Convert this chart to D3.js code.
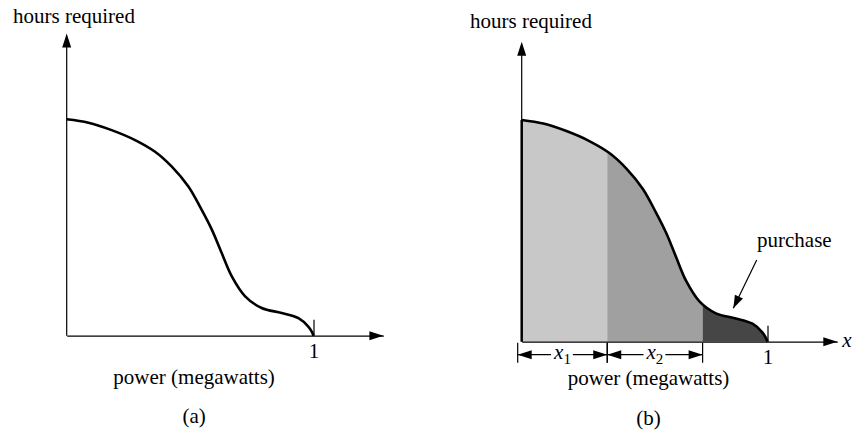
<!DOCTYPE html>
<html lang="en">
<head>
  <meta charset="UTF-8">
  <title>Hours required vs power</title>
  <script src="https://d3js.org/d3.v7.min.js"></script>
  <style>
    body { margin: 0; background: #fff; }
    text { font-family: "Liberation Serif", "Times New Roman", serif; font-size: 21px; fill: #000; }
    .ax { stroke: #000; stroke-width: 1.2; fill: none; }
  </style>
</head>
<body>
<svg id="chart" width="853" height="433"></svg>

<script>
// curve (power as fraction of 1 MW, hours as fraction of peak)
const powerX = [0, 0.088, 0.182, 0.277, 0.358, 0.426, 0.493, 0.547, 0.588, 0.628, 0.669, 0.723, 0.790, 0.871, 0.939, 0.979, 0.994, 1.0];
const hoursY = [1.0, 0.984, 0.950, 0.904, 0.850, 0.781, 0.689, 0.581, 0.490, 0.382, 0.274, 0.182, 0.128, 0.105, 0.081, 0.042, 0.016, 0];
const xTicks = [1];
const segments = [0, 0.348, 0.736, 1];
const segColors = ["#c8c8c8", "#a0a0a0", "#464646"];
const dimLabels = ["1", "2"];

const pts = powerX.map((x, i) => ({ x, y: hoursY[i] }));
const svg = d3.select("#chart");
const smooth = d3.curveCatmullRom.alpha(0.5);

function arrowHead(g, tx, ty, ang, len = 14, hw = 4.5) {
  const c = Math.cos(ang), s = Math.sin(ang);
  const bx = tx - c * len, by = ty - s * len;
  g.append("path")
    .attr("d", `M${tx},${ty}L${bx - s * hw},${by + c * hw}L${bx + s * hw},${by - c * hw}Z`)
    .attr("fill", "#000");
}

function drawPanel(opt) {
  const g = svg.append("g");
  const x = d3.scaleLinear().domain([0, 1]).range(opt.xr);
  const y = d3.scaleLinear().domain([0, 1]).range(opt.yr);

  const line = d3.line().x(d => x(d.x)).y(d => y(d.y)).curve(smooth);
  const area = d3.area().x(d => x(d.x)).y0(y(0)).y1(d => y(d.y)).curve(smooth);

  if (opt.shaded) {
    segColors.forEach((col, i) => {
      const id = "clip" + i;
      g.append("clipPath").attr("id", id).append("rect")
        .attr("x", x(segments[i])).attr("y", 0)
        .attr("width", x(segments[i + 1]) - x(segments[i]))
        .attr("height", y(0));
      g.append("path").datum(pts).attr("d", area)
        .attr("fill", col).attr("clip-path", `url(#${id})`);
    });
  }

  // x axis
  const xAxis = d3.axisBottom(x.copy().domain([0, opt.xMax]).range([x(0), x(opt.xMax)]))
    .tickValues(xTicks).tickFormat(d3.format("d"))
    .tickSizeInner(-16).tickSizeOuter(0).tickPadding(7);
  const xg = g.append("g").attr("transform", `translate(0,${y(0)})`).call(xAxis);
  xg.select(".domain").attr("stroke-width", 1.2);
  xg.selectAll(".tick line").attr("stroke-width", 1.2);
  xg.selectAll(".tick text").attr("font-family", null).attr("font-size", null).attr("dy", "0.71em");
  arrowHead(g, x(opt.xMax), y(0), 0);

  // y axis
  g.append("line").attr("class", "ax")
    .attr("x1", x(0)).attr("x2", x(0)).attr("y1", y(0)).attr("y2", y(opt.yMax) + 10);
  arrowHead(g, x(0), y(opt.yMax), -Math.PI / 2);

  if (opt.shaded) {
    g.append("line").attr("stroke", "#000").attr("stroke-width", 2.5)
      .attr("x1", x(0)).attr("x2", x(0)).attr("y1", y(0)).attr("y2", y(1));
  }
  g.append("path").datum(pts).attr("d", line)
    .attr("fill", "none").attr("stroke", "#000").attr("stroke-width", 2.6);

  g.append("text").attr("x", opt.yLabel[0]).attr("y", opt.yLabel[1]).text("hours required");
  g.append("text").attr("x", (x(0) + x(1)) / 2 + 4).attr("y", opt.xLabelY)
    .attr("text-anchor", "middle").text("power (megawatts)");
  g.append("text").attr("x", (x(0) + x(1)) / 2 + 4).attr("y", opt.capY)
    .attr("text-anchor", "middle").text(opt.caption);

  return { g, x, y };
}

drawPanel({ xr: [66.7, 313.5], yr: [335.7, 119.3], xMax: 1.283, yMax: 1.397,
  yLabel: [13, 23], xLabelY: 384, capY: 423, caption: "(a)" });

const b = drawPanel({ xr: [521.7, 767.5], yr: [341.7, 120], xMax: 1.284, yMax: 1.353,
  yLabel: [470, 28], xLabelY: 385, capY: 425, caption: "(b)", shaded: true });

// x symbol at end of axis
b.g.append("text").attr("x", b.x(1.284) + 5).attr("y", b.y(0) + 5)
  .attr("font-style", "italic").text("x");

// dimension lines under segments x1, x2
const dimY = b.y(0) + 13;
dimLabels.forEach((sub, i) => {
  const x0 = b.x(segments[i]) - (i === 0 ? 4 : 0), x1 = b.x(segments[i + 1]);
  const cx = (x0 + x1) / 2;
  b.g.append("line").attr("class", "ax").attr("x1", x0).attr("x2", x0).attr("y1", dimY - 12).attr("y2", dimY + 8);
  b.g.append("line").attr("class", "ax").attr("x1", x1).attr("x2", x1).attr("y1", dimY - 12).attr("y2", dimY + 8);
  const t = b.g.append("text").attr("x", cx).attr("y", dimY + 4).attr("text-anchor", "middle");
  t.append("tspan").attr("font-style", "italic").text("x");
  t.append("tspan").attr("font-size", "15px").attr("dy", 5).text(sub);
  const bb = t.node().getBBox();
  b.g.append("line").attr("class", "ax").attr("x1", x0).attr("x2", bb.x - 2).attr("y1", dimY).attr("y2", dimY);
  b.g.append("line").attr("class", "ax").attr("x1", bb.x + bb.width + 2).attr("x2", x1).attr("y1", dimY).attr("y2", dimY);
  arrowHead(b.g, x0, dimY, Math.PI, 14, 4.5);
  arrowHead(b.g, x1, dimY, 0, 14, 4.5);
});

// "purchase" callout
b.g.append("text").attr("x", 757).attr("y", 247).text("purchase");
const ax0 = 756.7, ay0 = 260, ax1 = 733.3, ay1 = 308.3;
b.g.append("line").attr("class", "ax").attr("x1", ax0).attr("y1", ay0).attr("x2", ax1).attr("y2", ay1);
arrowHead(b.g, ax1, ay1, Math.atan2(ay1 - ay0, ax1 - ax0), 13, 4.5);
</script>
</body>
</html>
